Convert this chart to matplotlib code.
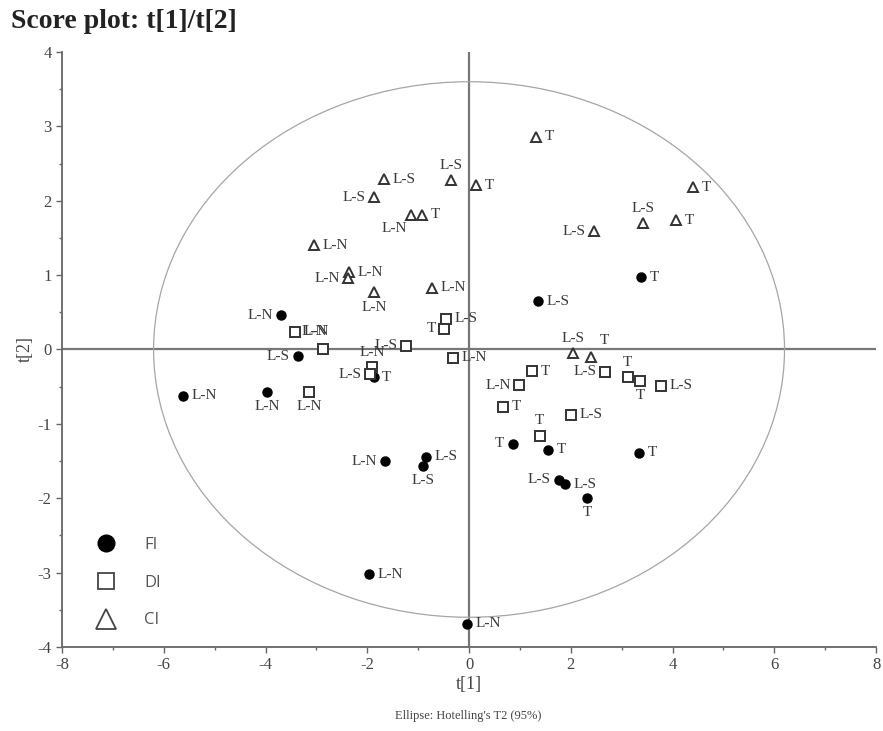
import matplotlib
matplotlib.use('Agg')
import matplotlib.pyplot as plt
from matplotlib.lines import Line2D
from matplotlib.patches import Ellipse
from matplotlib.ticker import MultipleLocator
import numpy as np

# puntuaciones t[1], t[2] por grupo
fi_x = [-3.69, -3.36, -5.62, -3.97, -1.87, -1.65, -0.84, -0.90, -1.96, -0.04,
        1.36, 3.38, 0.86, 1.55, 3.34, 1.77, 1.89, 2.32]
fi_y = [0.46, -0.09, -0.62, -0.57, -0.37, -1.50, -1.44, -1.56, -3.02, -3.69,
        0.65, 0.97, -1.27, -1.35, -1.39, -1.75, -1.81, -1.99]
fi_lab = ['L-N', 'L-S', 'L-N', 'L-N', 'T', 'L-N', 'L-S', 'L-S', 'L-N', 'L-N',
          'L-S', 'T', 'T', 'T', 'T', 'L-S', 'L-S', 'T']
fi_pos = ['l', 'l', 'r', 'b', 'r', 'l', 'r', 'b', 'r', 'r',
          'r', 'r', 'l', 'r', 'r', 'l', 'r', 'b']

di_x = [-3.42, -2.87, -3.14, -1.24, -1.91, -1.95, -0.45, -0.49, -0.31,
        1.24, 0.98, 0.67, 1.39, 2.00, 2.67, 3.12, 3.36, 3.77]
di_y = [0.24, 0.00, -0.57, 0.05, -0.24, -0.33, 0.41, 0.28, -0.11,
        -0.29, -0.48, -0.77, -1.16, -0.88, -0.30, -0.37, -0.42, -0.49]
di_lab = ['L-N', 'L-N', 'L-N', 'L-S', 'L-N', 'L-S', 'L-S', 'T', 'L-N',
          'T', 'L-N', 'T', 'T', 'L-S', 'L-S', 'T', 'T', 'L-S']
di_pos = ['r', 'ul', 'b', 'l', 'a', 'l', 'r', 'l', 'r',
          'r', 'l', 'r', 'a', 'r', 'l', 'a', 'b', 'r']

ci_x = [-0.35, -1.67, -1.87, -1.14, -0.92, -3.05, -2.36, -2.38, -1.87, -0.73,
        1.32, 0.14, 4.40, 4.07, 3.42, 2.46, 2.04, 2.40]
ci_y = [2.28, 2.29, 2.05, 1.81, 1.81, 1.40, 1.04, 0.96, 0.77, 0.83,
        2.86, 2.21, 2.18, 1.74, 1.70, 1.59, -0.05, -0.10]
ci_lab = ['L-S', 'L-S', 'L-S', 'L-N', 'T', 'L-N', 'L-N', 'L-N', 'L-N', 'L-N',
          'T', 'T', 'T', 'T', 'L-S', 'L-S', 'L-S', 'T']
ci_pos = ['a', 'r', 'l', 'bl', 'r', 'r', 'r', 'l', 'b', 'r',
          'r', 'r', 'r', 'r', 'a', 'l', 'a', 'ar']

# elipse de Hotelling T2 (95%)
ell_a = 6.2
ell_b = 3.6

offsets = {
    'r': ((6, 0), 'left', 'center'),
    'l': ((-6, 0), 'right', 'center'),
    'a': ((0, 6), 'center', 'bottom'),
    'b': ((0, -6), 'center', 'top'),
    'ul': ((-6, 8), 'center', 'bottom'),
    'bl': ((-12, -5), 'center', 'top'),
    'ar': ((6, 7), 'left', 'bottom'),
}

plt.rcParams['font.family'] = ['Liberation Serif', 'DejaVu Serif']
plt.rcParams['axes.unicode_minus'] = False

fig = plt.figure(figsize=(8.83, 7.31), dpi=100)
ax = fig.add_axes([0.0702, 0.1149, 0.922, 0.814])

ax.axhline(0, color='#777777', lw=1.6, zorder=1)
ax.axvline(0, color='#777777', lw=1.6, zorder=1)
ax.add_patch(Ellipse((0, 0), 2 * ell_a, 2 * ell_b, fill=False,
                     edgecolor='#a5a5a5', lw=0.9, zorder=1))

txt_kw = dict(textcoords='offset points', fontsize=11, color='#3a3a3a', zorder=4)


def draw_labels(xs, ys, labs, poss):
    for x, y, lab, p in zip(xs, ys, labs, poss):
        off, ha, va = offsets[p]
        ax.annotate(lab, (x, y), xytext=off, ha=ha, va=va, **txt_kw)


ax.plot(fi_x, fi_y, 'o', color='black', ms=6.5, zorder=3)
ax.plot(di_x, di_y, 's', mfc='white', mec='#333333', mew=1.4, ms=6.5, zorder=3)
ax.plot(ci_x, ci_y, '^', mfc='white', mec='#333333', mew=1.4, ms=6.5, zorder=3)

draw_labels(fi_x, fi_y, fi_lab, fi_pos)
draw_labels(di_x, di_y, di_lab, di_pos)
draw_labels(ci_x, ci_y, ci_lab, ci_pos)

ax.set_xlim(-8, 8)
ax.set_ylim(-4, 4)
ax.xaxis.set_major_locator(MultipleLocator(2))
ax.xaxis.set_minor_locator(MultipleLocator(1))
ax.yaxis.set_major_locator(MultipleLocator(1))
ax.yaxis.set_minor_locator(MultipleLocator(0.5))
ax.tick_params(which='both', direction='out', color='#666666', labelcolor='#444444',
               labelsize=12, width=1)
ax.tick_params(which='major', length=4)
ax.tick_params(which='minor', length=2)
for s in ['top', 'right']:
    ax.spines[s].set_visible(False)
for s in ['left', 'bottom']:
    ax.spines[s].set_color('#666666')
    ax.spines[s].set_linewidth(1.3)

ax.set_xlabel('t[1]', fontsize=13, color='#444444', labelpad=2)
ax.set_ylabel('t[2]', fontsize=13, color='#444444', labelpad=3)

handles = [
    Line2D([], [], ls='', marker='o', color='black', ms=12),
    Line2D([], [], ls='', marker='s', mfc='white', mec='#444444', mew=1.3, ms=11),
    Line2D([], [], ls='', marker='^', mfc='white', mec='#444444', mew=1.3, ms=14),
]
leg = ax.legend(handles, ['FI', 'DI', 'CI'], loc='lower left', bbox_to_anchor=(0.015, 0.006),
                frameon=False, labelspacing=1.3, handletextpad=1.3,
                prop={'family': 'Open Sans', 'size': 12})
for t in leg.get_texts():
    t.set_color('#555555')

fig.text(0.013, 0.953, 'Score plot: t[1]/t[2]', fontsize=20, fontweight='bold',
         ha='left', va='bottom', color='#222222')
fig.text(0.53, 0.02, "Ellipse: Hotelling's T2 (95%)", fontsize=9,
         ha='center', va='center', color='#444444')

fig.savefig('out.png', dpi=100)
